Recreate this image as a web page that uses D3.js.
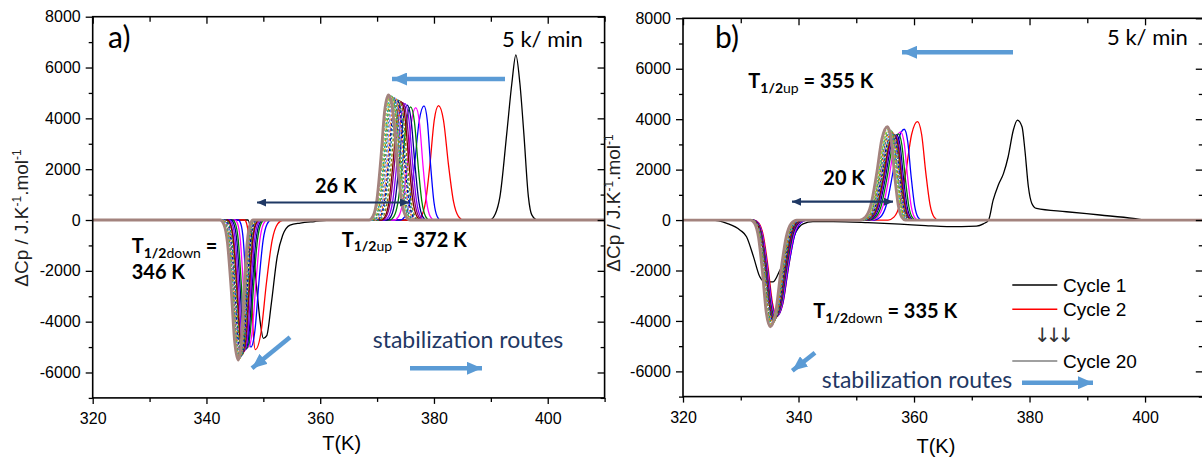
<!DOCTYPE html>
<html><head><meta charset="utf-8">
<script src="https://cdnjs.cloudflare.com/ajax/libs/d3/7.8.5/d3.min.js"></script>
<style>body{margin:0;background:#fff;}svg{display:block}</style>
</head><body>
<svg id="chart" width="1202" height="459"></svg>
<script>
// ================= DATA =================
const cycles = ["Cycle 1","Cycle 2","Cycle 3","Cycle 4","Cycle 5","Cycle 6","Cycle 7","Cycle 8","Cycle 9","Cycle 10",
  "Cycle 11","Cycle 12","Cycle 13","Cycle 14","Cycle 15","Cycle 16","Cycle 17","Cycle 18","Cycle 19","Cycle 20"];
const cycleColors = ["#000000","#ff0000","#0000ff","#ff00ff","#008000","#000080","#8000ff","#800080","#800000","#808000",
  "#008080","#0000a0","#ff8000","#8080ff","#2e8b57","#b8860b","#20b2aa","#9acd32","#bc8f8f","#a3837e"];
const xTicks = [320, 340, 360, 380, 400];
const xMinor = [330, 350, 370, 390, 410];
const yTicks = [-6000, -4000, -2000, 0, 2000, 4000, 6000, 8000];
const yMinor = [-7000, -5000, -3000, -1000, 1000, 3000, 5000, 7000];

// tabulated normalised peak profile (offset in units of half-base width, fraction of peak)
const peakShapeU = [-1, -0.8, -0.6, -0.4, -0.2, 0, 0.2, 0.4, 0.6, 0.8, 1];
const peakShapeF = [0, 0.03, 0.16, 0.48, 0.87, 1, 0.87, 0.48, 0.16, 0.03, 0];

// ---- panel a : cycle 1 read point by point ----
const a_cycle1_T  = [320, 347.3, 348.0, 348.8, 349.5, 350.0, 350.6, 351.4, 352.4, 353.4, 354.7, 356.5, 359, 362,
  389.8, 390.8, 391.6, 392.8, 393.7, 394.4, 395.1, 395.8, 396.6, 397.2, 398.2, 410];
const a_cycle1_Cp = [0, 0, -790, -2600, -4100, -4660, -4550, -3300, -1500, -600, -200, -120, -60, 0,
  0, 250, 920, 3410, 5390, 6500, 5390, 3410, 920, 200, 0, 0];
// ---- panel a : cycles 2..20 peak parameters ----
const a_coolT  = [348.6, 347.8, 347.4, 347.1, 346.9, 346.7, 346.5, 346.4, 346.3, 346.2, 346.1, 346.0, 345.95, 345.9, 345.85, 345.8, 345.75, 345.7, 345.6];
const a_coolCp = [-5100, -5000, -5000, -5050, -5100, -5150, -5200, -5250, -5300, -5330, -5360, -5390, -5410, -5430, -5450, -5470, -5480, -5490, -5510];
const a_coolWL = [1.9, 2.2, 2.4, 2.5, 2.6, 2.7, 2.8, 2.8, 2.9, 2.9, 3.0, 3.0, 3.0, 3.1, 3.1, 3.1, 3.2, 3.2, 3.2];
const a_coolWR = [4.9, 3.6, 3.3, 3.1, 3.0, 2.9, 2.8, 2.8, 2.7, 2.7, 2.7, 2.6, 2.6, 2.6, 2.6, 2.6, 2.6, 2.6, 2.6];
const a_heatT  = [380.8, 378.25, 376.8, 375.9, 375.3, 374.9, 374.5, 374.2, 373.9, 373.6, 373.4, 373.2, 373.0, 372.8, 372.6, 372.5, 372.3, 372.2, 372.0];
const a_heatCp = [4500, 4490, 4420, 4450, 4520, 4580, 4620, 4660, 4700, 4730, 4760, 4790, 4810, 4830, 4850, 4870, 4890, 4900, 4920];
const a_heatWL = [3.8, 4.2, 3.8, 3.7, 3.6, 3.6, 3.6, 3.5, 3.5, 3.5, 3.5, 3.4, 3.4, 3.4, 3.4, 3.4, 3.4, 3.4, 3.4];
const a_heatWR = [4.4, 2.9, 3.2, 3.3, 3.4, 3.4, 3.5, 3.5, 3.5, 3.6, 3.6, 3.6, 3.7, 3.7, 3.7, 3.8, 3.8, 3.8, 3.8];

// ---- panel b : cycle 1 read point by point ----
const b_cycle1_T  = [320, 325, 327.6, 329.9, 331.0, 332.2, 333.3, 334.2, 335.6, 336.8, 337.4, 338.5, 339.6, 340.8, 342.5, 346, 352,
  357.6, 362, 365.7, 370.8, 372.0, 372.9, 373.7, 374.6, 375.5, 376.3, 377.2, 377.9, 378.7, 379.2, 379.8, 380.4, 381.2,
  386.4, 392.2, 398, 400.3, 410];
const b_cycle1_Cp = [0, 0, -130, -400, -660, -1450, -2250, -2450, -2450, -1980, -1720, -1100, -450, -150, -60, -60, -100,
  -160, -220, -260, -240, -150, 0, 790, 1390, 1850, 2510, 3570, 3960, 3700, 2770, 1320, 660, 460,
  330, 200, 66, 0, 0];
// ---- panel b : cycles 2..20 peak parameters ----
const b_coolT  = [336.3, 336.2, 336.1, 336.0, 335.9, 335.85, 335.8, 335.75, 335.7, 335.65, 335.6, 335.55, 335.5, 335.45, 335.4, 335.3, 335.25, 335.2, 335.1];
const b_coolCp = [-3800, -3830, -3850, -3870, -3890, -3910, -3930, -3950, -3970, -3990, -4010, -4040, -4070, -4100, -4130, -4160, -4180, -4200, -4230];
const b_coolWL = [4.0, 4.0, 3.9, 3.9, 3.8, 3.8, 3.7, 3.7, 3.7, 3.6, 3.6, 3.6, 3.5, 3.5, 3.5, 3.5, 3.4, 3.4, 3.4];
const b_coolWR = [5.0, 5.2, 5.1, 5.0, 5.0, 4.9, 4.9, 4.9, 4.8, 4.8, 4.8, 4.7, 4.7, 4.7, 4.7, 4.6, 4.6, 4.6, 4.6];
const b_heatT  = [360.6, 358.3, 357.7, 357.3, 357.0, 356.8, 356.7, 356.6, 356.5, 356.4, 356.3, 356.2, 356.1, 356.0, 355.9, 355.8, 355.7, 355.55, 355.4];
const b_heatCp = [3900, 3600, 3500, 3420, 3380, 3370, 3370, 3380, 3400, 3420, 3450, 3480, 3510, 3540, 3570, 3600, 3630, 3670, 3700];
const b_heatWL = [5.1, 5.2, 5.1, 5.0, 5.0, 5.0, 5.0, 5.0, 5.0, 5.0, 5.0, 5.0, 4.9, 4.9, 4.9, 4.9, 4.8, 4.8, 4.8];
const b_heatWR = [3.6, 3.0, 3.0, 3.0, 3.0, 3.0, 3.0, 3.0, 3.0, 3.0, 3.1, 3.1, 3.1, 3.1, 3.1, 3.1, 3.1, 3.1, 3.1];

const legendLabels = ["Cycle 1", "Cycle 2", "\u2193\u2193\u2193", "Cycle 20"];
const legendColors = ["#000000", "#ff0000", null, "#808080"];

// ================= DRAWING =================
const svg = d3.select("#chart");
const ANN = "Lato, 'Open Sans', sans-serif";
const AX = "'Liberation Sans', Arial, sans-serif";
const NAVY = "#1f3864", LBLUE = "#5b9bd5";

const defs = svg.append("defs");
function marker(id, color, w, h) {
  defs.append("marker").attr("id", id).attr("viewBox", `0 0 ${w} ${h}`)
    .attr("refX", w).attr("refY", h / 2).attr("markerWidth", w).attr("markerHeight", h)
    .attr("markerUnits", "userSpaceOnUse").attr("orient", "auto-start-reverse")
    .append("path").attr("d", `M0,0L${w},${h/2}L0,${h}Z`).attr("fill", color);
}
marker("navyHead", NAVY, 9, 8);
marker("blueHead", LBLUE, 15, 13);

function buildCycle(c1T, c1Cp, coolT, coolCp, coolWL, coolWR, heatT, heatCp, heatWL, heatWR) {
  const out = [];
  out.push(c1T.map((t, i) => [t, c1Cp[i]]));
  for (let i = 0; i < coolT.length; i++) {
    const pts = [[320, 0]];
    peakShapeU.forEach((u, k) => pts.push([coolT[i] + u * (u < 0 ? coolWL[i] : coolWR[i]), coolCp[i] * peakShapeF[k]]));
    peakShapeU.forEach((u, k) => pts.push([heatT[i] + u * (u < 0 ? heatWL[i] : heatWR[i]), heatCp[i] * peakShapeF[k]]));
    pts.push([410, 0]);
    out.push(pts);
  }
  return out;
}

const panels = [
  { key: "a", left: 92.7, right: 604.6, top: 16.7, bottom: 397.9,
    series: buildCycle(a_cycle1_T, a_cycle1_Cp, a_coolT, a_coolCp, a_coolWL, a_coolWR, a_heatT, a_heatCp, a_heatWL, a_heatWR),
    ytitleX: 28, ytitleY: 218 },
  { key: "b", left: 683, right: 1202.8, top: 18.3, bottom: 396.6,
    series: buildCycle(b_cycle1_T, b_cycle1_Cp, b_coolT, b_coolCp, b_coolWL, b_coolWR, b_heatT, b_heatCp, b_heatWL, b_heatWR),
    ytitleX: 620, ytitleY: 203 }
];

panels.forEach(p => {
  const x = d3.scaleLinear().domain([320, 410]).range([p.left, p.right]);
  const y = d3.scaleLinear().domain([-7000, 8000]).range([p.bottom, p.top]);
  const g = svg.append("g");
  defs.append("clipPath").attr("id", "clip" + p.key).append("rect")
    .attr("x", p.left).attr("y", p.top).attr("width", p.right - p.left).attr("height", p.bottom - p.top);

  const line = d3.line().x(d => x(d[0])).y(d => y(d[1])).curve(d3.curveMonotoneX);
  const cg = g.append("g").attr("clip-path", `url(#clip${p.key})`);
  p.series.forEach((s, i) => {
    cg.append("path").attr("d", line(s)).attr("fill", "none")
      .attr("stroke", cycleColors[i])
      .attr("stroke-width", i === 19 ? 2.8 : 1.3)
      .attr("stroke-dasharray", (i >= 9 && i < 19) ? (i % 2 ? "3,2" : "2,2") : null);
  });

  // axes
  const style = sel => {
    sel.select(".domain").remove();
    sel.selectAll("line").attr("stroke", "#000").attr("stroke-width", 1.3);
    sel.selectAll("text").attr("font-family", AX).attr("font-size", 16).attr("fill", "#000");
  };
  const fmt = d => String(d);
  g.append("g").attr("transform", `translate(${p.left},0)`)
    .call(d3.axisLeft(y).tickValues(yTicks).tickSize(7).tickPadding(5).tickFormat(fmt)).call(style);
  g.append("g").attr("transform", `translate(${p.left},0)`)
    .call(d3.axisLeft(y).tickValues(yMinor).tickSize(4).tickFormat("")).call(style);
  g.append("g").attr("transform", `translate(0,${p.bottom})`)
    .call(d3.axisBottom(x).tickValues(xTicks).tickSize(6).tickPadding(9).tickFormat(fmt)).call(style);
  g.append("g").attr("transform", `translate(0,${p.bottom})`)
    .call(d3.axisBottom(x).tickValues(xMinor).tickSize(4).tickFormat("")).call(style);
  g.append("g").attr("transform", `translate(0,${p.top})`)
    .call(d3.axisTop(x).tickValues(xTicks).tickSize(-7).tickFormat("")).call(style);
  g.append("g").attr("transform", `translate(0,${p.top})`)
    .call(d3.axisTop(x).tickValues(xMinor).tickSize(-5).tickFormat("")).call(style);
  g.append("g").attr("transform", `translate(${p.right},0)`)
    .call(d3.axisRight(y).tickValues(yTicks).tickSize(-7).tickFormat("")).call(style);
  g.append("g").attr("transform", `translate(${p.right},0)`)
    .call(d3.axisRight(y).tickValues(yMinor).tickSize(-4).tickFormat("")).call(style);
  g.append("rect").attr("x", p.left).attr("y", p.top).attr("width", p.right - p.left).attr("height", p.bottom - p.top)
    .attr("fill", "none").attr("stroke", "#000").attr("stroke-width", 1.6);

  // axis titles
  g.append("text").attr("x", (p.left + p.right) / 2 - 7).attr("y", p.key === "a" ? 450 : 453)
    .attr("text-anchor", "middle").attr("font-family", AX).attr("font-size", 20).text("T(K)");
  const yt = g.append("text").attr("transform", `translate(${p.ytitleX},${p.ytitleY}) rotate(-90)`)
    .attr("text-anchor", "middle").attr("font-family", AX).attr("font-size", 19).attr("fill", "#222");
  yt.append("tspan").text("\u0394Cp / J.K");
  yt.append("tspan").attr("font-size", 12).attr("dy", -7).text("-1");
  yt.append("tspan").attr("dy", 7).text(".mol");
  yt.append("tspan").attr("font-size", 12).attr("dy", -7).text("-1");
});

// ---------- annotations ----------
function txt(x, y, s, size, opts = {}) {
  return svg.append("text").attr("x", x).attr("y", y).attr("font-family", ANN).attr("font-size", size)
    .attr("font-weight", opts.bold ? 700 : 400).attr("fill", opts.fill || "#000").text(s);
}
function tHalf(x, y, sub, rest) {
  const t = svg.append("text").attr("x", x).attr("y", y).attr("font-family", ANN).attr("font-size", 20).attr("font-weight", 700);
  t.append("tspan").text("T");
  t.append("tspan").attr("font-size", 14).attr("dy", 4.5).text("1/2");
  t.append("tspan").attr("font-size", 14).attr("font-weight", 400).text(sub);
  if (rest) t.append("tspan").attr("dy", -4.5).text(" " + rest);
  return t;
}
function arrow(x1, y1, x2, y2, color, w, head, both) {
  svg.append("line").attr("x1", x1).attr("y1", y1).attr("x2", x2).attr("y2", y2)
    .attr("stroke", color).attr("stroke-width", w)
    .attr("marker-end", `url(#${head})`).attr("marker-start", both ? `url(#${head})` : null);
}

// panel a
txt(108, 48, "a)", 30);
txt(502, 47, "5 k/ min", 22);
arrow(505, 79, 392, 79, LBLUE, 4.5, "blueHead");
txt(315, 193, "26 K", 20, { bold: true });
arrow(257, 202.5, 409, 202.5, NAVY, 2.2, "navyHead", true);
tHalf(131.7, 253, "down", "=");
txt(131.7, 279, "346 K", 20, { bold: true });
tHalf(341.7, 246.7, "up", "= 372 K");
arrow(290, 337.3, 252, 368.3, LBLUE, 4.5, "blueHead");
txt(372.7, 348.3, "stabilization routes", 23, { fill: NAVY });
arrow(410, 368.3, 482, 368.3, LBLUE, 4.5, "blueHead");

// panel b
txt(715, 48, "b)", 30);
txt(1107, 45, "5 k/ min", 22);
arrow(1013, 52.3, 902, 52.3, LBLUE, 4.5, "blueHead");
tHalf(748.3, 88.3, "up", "= 355 K");
txt(823.3, 185, "20 K", 20, { bold: true });
arrow(792, 201.7, 893, 201.7, NAVY, 2.2, "navyHead", true);
tHalf(813.3, 318.3, "down", "= 335 K");
arrow(815, 352.7, 792.3, 370.7, LBLUE, 4.5, "blueHead");
txt(821.7, 388, "stabilization routes", 23, { fill: NAVY });
arrow(1022, 382.7, 1093, 382.7, LBLUE, 4.5, "blueHead");

// legend (panel b)
const legY = [285, 309.3, 335, 361];
legendLabels.forEach((lab, i) => {
  if (legendColors[i]) {
    svg.append("line").attr("x1", 1012.3).attr("x2", 1057.3).attr("y1", legY[i]).attr("y2", legY[i])
      .attr("stroke", legendColors[i]).attr("stroke-width", 1.5);
    svg.append("text").attr("x", 1063).attr("y", legY[i] + 6.5).attr("font-family", AX).attr("font-size", 19).text(lab);
  } else {
    svg.append("text").attr("x", 1034).attr("y", legY[i] + 7).attr("font-family", "'DejaVu Sans', sans-serif")
      .attr("font-size", 20).attr("letter-spacing", -5).attr("fill", "#333").text(lab);
  }
});
</script>
</body></html>
